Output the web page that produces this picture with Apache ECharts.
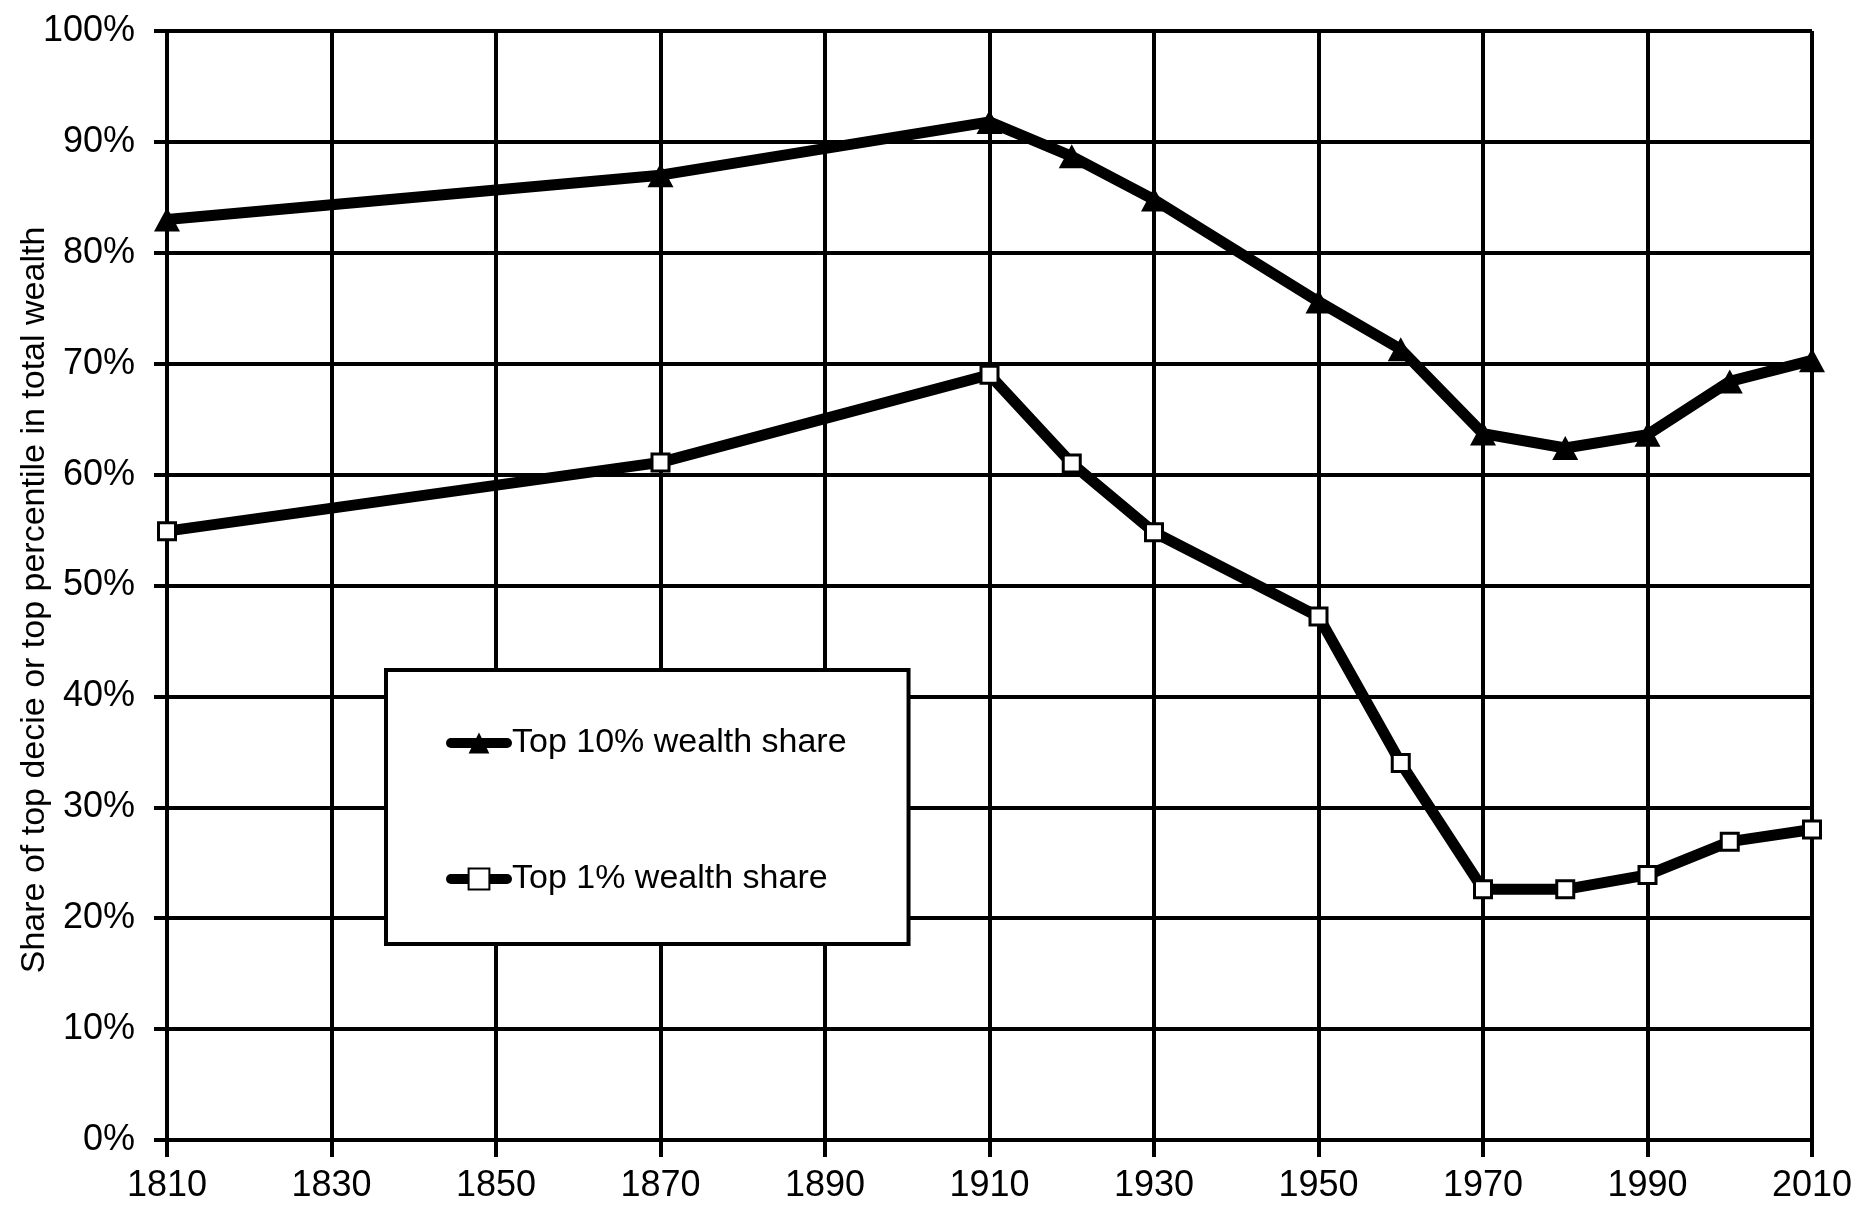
<!DOCTYPE html>
<html>
<head>
<meta charset="utf-8">
<script src="https://cdn.jsdelivr.net/npm/echarts@6/dist/echarts.min.js"></script>
<style>
html,body{margin:0;padding:0;background:#fff;}
#chart{width:1858px;height:1213px;}
</style>
</head>
<body>
<div id="chart"></div>
<script>
// Data
const years = [1810, 1870, 1910, 1920, 1930, 1950, 1960, 1970, 1980, 1990, 2000, 2010];
const top10Share = [83, 87, 91.8, 88.7, 84.8, 75.6, 71.3, 63.7, 62.4, 63.6, 68.4, 70.3];
const top1Share = [54.9, 61.1, 69.0, 61.0, 54.8, 47.2, 34.0, 22.6, 22.6, 23.9, 26.9, 28.0];
const seriesNames = ['Top 10% wealth share', 'Top 1% wealth share'];
const yAxisTitle = 'Share of top decie or top percentile in total wealth';

const font = "'Liberation Sans',Arial,sans-serif";

const chart = echarts.init(document.getElementById('chart'), null, {renderer: 'canvas'});
const pairs = (vals) => years.map((y, i) => [y, vals[i]]);

chart.setOption({
  backgroundColor: '#ffffff',
  animation: false,
  grid: {left: 167, right: 46, top: 31, bottom: 73, containLabel: false, outerBoundsMode: 'none'},
  xAxis: {
    type: 'value', min: 1810, max: 2010, interval: 20,
    axisLine: {show: true, onZero: false, lineStyle: {color: '#000', width: 4}},
    axisTick: {show: true, length: 17, lineStyle: {color: '#000', width: 4}},
    axisLabel: {color: '#000', fontFamily: font, fontSize: 36, margin: 28,
      hideOverlap: false, showMinLabel: true, showMaxLabel: true,
      formatter: (v) => String(v)},
    splitLine: {show: true, lineStyle: {color: '#000', width: 4}}
  },
  yAxis: {
    type: 'value', min: 0, max: 100, interval: 10,
    name: yAxisTitle, nameLocation: 'middle', nameRotate: 90, nameGap: 115,
    nameMoveOverlap: false,
    nameTextStyle: {color: '#000', fontFamily: font, fontSize: 34, padding: [0, 29, 0, 0]},
    axisLine: {show: true, lineStyle: {color: '#000', width: 4}},
    axisTick: {show: true, length: 13, lineStyle: {color: '#000', width: 4}},
    axisLabel: {color: '#000', fontFamily: font, fontSize: 36, margin: 32,
      formatter: '{value}%'},
    splitLine: {show: true, lineStyle: {color: '#000', width: 4}}
  },
  legend: {
    orient: 'vertical', left: 386, top: 670,
    backgroundColor: '#fff', borderColor: '#000', borderWidth: 4,
    padding: [56, 62, 48, 60], itemGap: 102,
    itemWidth: 56, itemHeight: 26,
    lineStyle: {width: 10, cap: 'round'},
    textStyle: {color: '#000', fontFamily: font, fontSize: 34},
    data: seriesNames
  },
  series: [
    {
      name: seriesNames[0], type: 'line', data: pairs(top10Share),
      lineStyle: {color: '#000', width: 11}, itemStyle: {color: '#000'},
      symbol: 'triangle', symbolSize: [26, 24], z: 3
    },
    {
      name: seriesNames[1], type: 'line', data: pairs(top1Share),
      lineStyle: {color: '#000', width: 11},
      itemStyle: {color: '#fff', borderColor: '#000', borderWidth: 3},
      symbol: 'rect', symbolSize: 17, z: 3
    }
  ]
});
</script>
</body>
</html>
